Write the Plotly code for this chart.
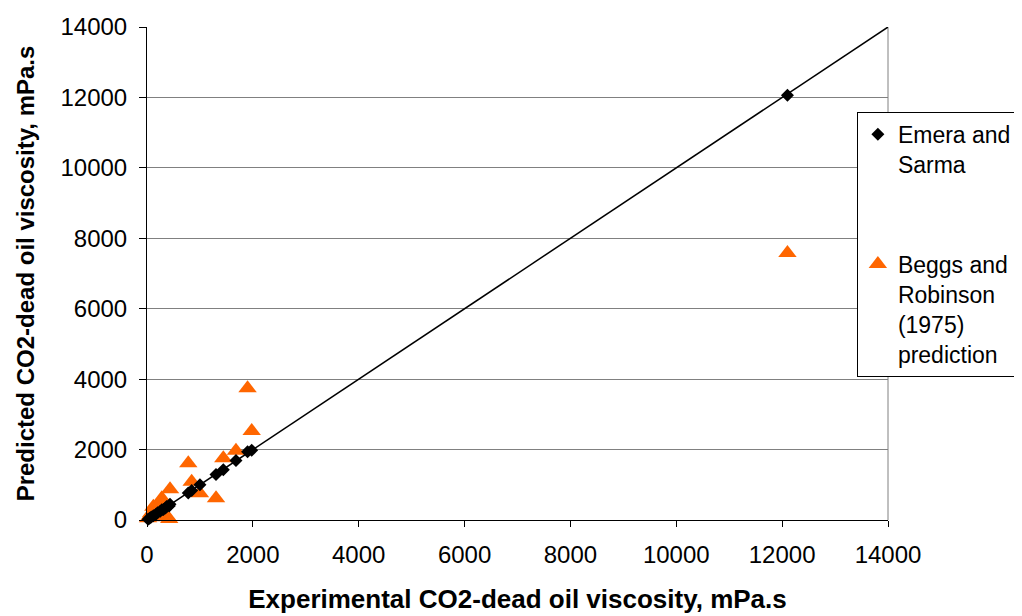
import plotly.graph_objects as go

# experimental viscosity (shared x for both models), mPa.s
experimental = [20, 50, 80, 120, 170, 200, 250, 280, 310, 350, 372, 420, 435,
                780, 844, 1000, 1304, 1442, 1681, 1900, 1978, 12100]
emera_sarma = [22, 48, 85, 118, 165, 205, 245, 290, 300, 340, 380, 400, 450,
               770, 840, 1000, 1290, 1430, 1690, 1940, 1980, 12060]
beggs_robinson = [50, 100, 200, 378, 340, 150, 420, 616, 474, 80, 94, 30, 872,
                  1610, 1088, 758, 616, 1752, 1968, 3740, 2528, 7580]
unity_line = [0, 14000]
ticks = [0, 2000, 4000, 6000, 8000, 10000, 12000, 14000]
tick_text = [str(t) for t in ticks]

FONT = "Liberation Sans, Arial, sans-serif"

fig = go.Figure()
fig.add_trace(go.Scatter(
    x=experimental, y=beggs_robinson, mode="markers",
    name="Beggs and<br>Robinson<br>(1975)<br>prediction",
    marker=dict(symbol="triangle-up", size=16, color="#FF6600"),
    cliponaxis=False, legendrank=2, legendgroup="b",
))
fig.add_trace(go.Scatter(
    x=unity_line, y=unity_line, mode="lines",
    line=dict(color="black", width=1.5), showlegend=False, hoverinfo="skip",
))
fig.add_trace(go.Scatter(
    x=experimental, y=emera_sarma, mode="markers",
    name="Emera and<br>Sarma",
    marker=dict(symbol="diamond", size=10, color="black"),
    cliponaxis=False, legendrank=1, legendgroup="a",
))

# the page body adds an 8px offset, so margins are shifted to compensate
fig.update_layout(
    width=1022, height=616,
    margin=dict(l=139, r=142, t=19, b=104, autoexpand=False),
    paper_bgcolor="white", plot_bgcolor="white",
    font=dict(family=FONT, size=23, color="black"),
    legend=dict(
        x=0.958, y=0.828, xanchor="left", yanchor="top",
        bgcolor="white", bordercolor="black", borderwidth=1,
        font=dict(size=23), valign="top", tracegroupgap=67,
    ),
    shapes=[dict(type="line", xref="paper", yref="paper", x0=1, x1=1, y0=0, y1=1,
                 line=dict(color="#808080", width=1), layer="below")],
)
fig.update_xaxes(
    range=[0, 14000], tickvals=ticks, ticktext=tick_text,
    showgrid=False, zeroline=False, automargin=False,
    showline=True, linecolor="black", linewidth=1,
    ticks="outside", ticklen=6, tickcolor="black", ticklabelstandoff=7,
    tickfont=dict(size=24),
    title=dict(text="<b>Experimental CO2-dead oil viscosity, mPa.s</b>",
               font=dict(size=26), standoff=23),
)
fig.update_yaxes(
    range=[0, 14000], tickvals=ticks, ticktext=tick_text,
    showgrid=True, gridcolor="#808080", gridwidth=1, zeroline=False,
    automargin=False,
    showline=True, linecolor="black", linewidth=1,
    ticks="outside", ticklen=7, tickcolor="black", ticklabelstandoff=7,
    tickfont=dict(size=24),
    title=dict(text="<b>Predicted CO2-dead oil viscosity, mPa.s</b>",
               font=dict(size=24), standoff=19),
)

fig.write_html("out.html")
